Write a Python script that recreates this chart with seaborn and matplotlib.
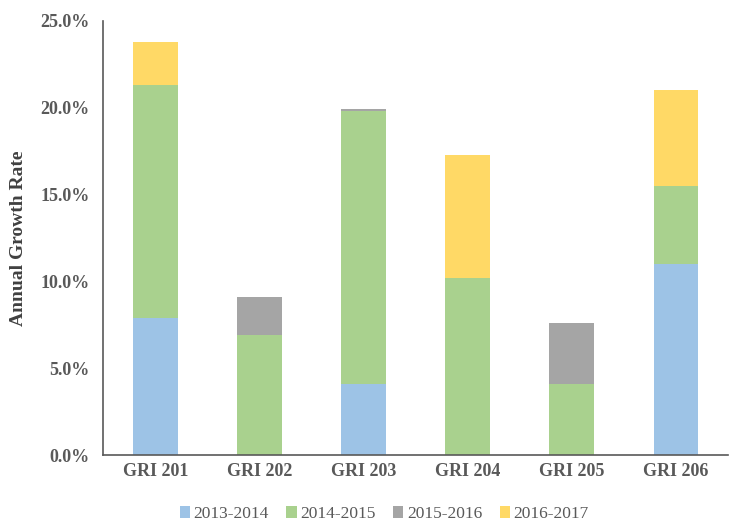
import numpy as np
import pandas as pd
import matplotlib
matplotlib.use("Agg")
import matplotlib.pyplot as plt
from matplotlib.patches import Patch
from matplotlib.ticker import FuncFormatter
import seaborn as sns

categories = ["GRI 201", "GRI 202", "GRI 203", "GRI 204", "GRI 205", "GRI 206"]
series_names = ["2013-2014", "2014-2015", "2015-2016", "2016-2017"]
v_2013_2014 = [7.9, 0.0, 4.1, 0.0, 0.0, 11.0]
v_2014_2015 = [13.4, 6.9, 15.7, 10.2, 4.1, 4.5]
v_2015_2016 = [0.0, 2.2, 0.1, 0.0, 3.5, 0.0]
v_2016_2017 = [2.5, 0.0, 0.0, 7.1, 0.0, 5.5]
colors = ["#9DC3E6", "#A9D18E", "#A5A5A5", "#FFD966"]

sns.set_style("white")
plt.rcParams["font.family"] = ["Liberation Serif", "DejaVu Serif"]

series = [v_2013_2014, v_2014_2015, v_2015_2016, v_2016_2017]
cum = np.cumsum(np.array(series), axis=0)

fig = plt.figure(figsize=(7.49, 5.23), dpi=100)
ax = fig.add_axes([0.138, 0.130, 0.834, 0.830])

for i in reversed(range(len(series))):
    df = pd.DataFrame({"cat": categories, "val": cum[i] / 100.0})
    sns.barplot(data=df, x="cat", y="val", color=colors[i], width=0.43,
                saturation=1, ax=ax, linewidth=0, order=categories)

ax.set_ylim(0, 0.25)
ax.set_yticks(np.arange(0, 0.2501, 0.05))
ax.yaxis.set_major_formatter(FuncFormatter(lambda v, p: f"{v*100:.1f}%"))
ax.set_xlim(-0.5, 5.5)
ax.set_xlabel("")
ax.set_ylabel("Annual Growth Rate", fontsize=14, fontweight="bold", color="#404040")
ax.yaxis.set_label_coords(-0.123, 0.5)
ax.tick_params(axis="y", length=0, labelsize=13, labelcolor="#595959", pad=10)
ax.tick_params(axis="x", length=0, labelsize=13, labelcolor="#595959", pad=6)
for lab in ax.get_xticklabels() + ax.get_yticklabels():
    lab.set_fontweight("bold")
for s in ["top", "right"]:
    ax.spines[s].set_visible(False)
for s in ["left", "bottom"]:
    ax.spines[s].set_color("#595959")
    ax.spines[s].set_linewidth(1.2)

handles = [Patch(facecolor=c, edgecolor="none") for c in colors]
fig.legend(handles, series_names, loc="center", bbox_to_anchor=(0.513, 0.017),
           ncol=4, frameon=False, fontsize=12.5, handlelength=0.6, handleheight=0.6,
           handletextpad=0.2, columnspacing=1.0, labelcolor="#595959")

fig.savefig("out.png", dpi=100)
